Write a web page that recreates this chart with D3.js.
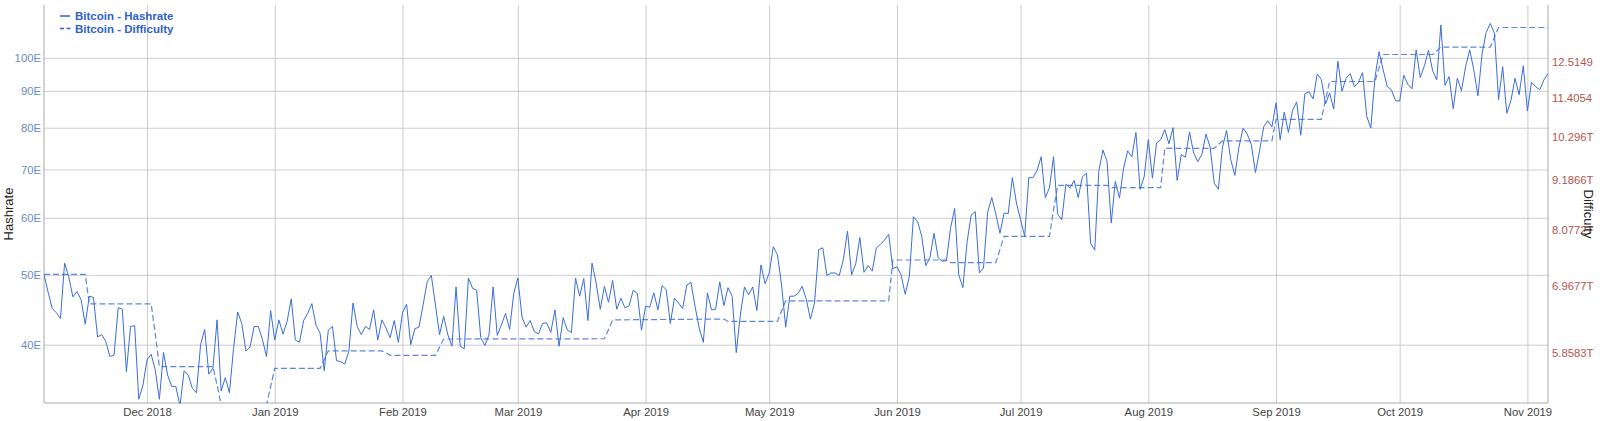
<!DOCTYPE html>
<html>
<head>
<meta charset="utf-8">
<script src="https://cdn.jsdelivr.net/npm/d3@7"></script>
<style>
  html, body { margin: 0; padding: 0; background: #ffffff; }
  svg { display: block; font-family: Arial, "Liberation Sans", sans-serif; }
</style>
</head>
<body>
<svg id="chart" width="1600" height="421"></svg>
<script>
// ---------------- DATA ----------------
const startDate = "2018-11-06";
const endDate = "2019-11-06";

// Daily hashrate (EH/s), one value per day from startDate to endDate
const hashrate = [
  50.0, 47.3, 44.9, 44.3, 43.5, 51.9, 49.7, 46.6, 47.4, 46.2,
  42.7, 46.7, 46.5, 41.0, 41.3, 40.4, 38.5, 38.7, 45.0, 44.8,
  36.7, 42.4, 42.5, 33.6, 35.1, 38.1, 38.8, 36.9, 33.6, 39.0,
  36.3, 35.0, 35.0, 32.9, 36.8, 36.3, 34.8, 34.3, 40.0, 42.0,
  36.4, 37.1, 43.3, 34.5, 36.0, 34.3, 39.5, 44.4, 42.8, 39.2,
  39.7, 42.4, 42.4, 40.7, 38.5, 44.6, 40.6, 43.3, 41.4, 43.1,
  46.3, 40.6, 40.3, 43.2, 44.2, 45.6, 42.6, 41.5, 36.8, 41.9,
  42.4, 38.0, 37.9, 37.6, 39.2, 45.7, 42.4, 41.3, 42.4, 42.0,
  44.7, 40.6, 43.3, 42.2, 40.9, 43.2, 40.3, 44.3, 45.5, 40.0,
  42.1, 42.3, 45.4, 48.9, 49.9, 45.4, 41.3, 43.8, 41.3, 39.8,
  48.1, 39.8, 39.5, 49.5, 47.9, 47.6, 40.9, 39.9, 41.3, 48.1,
  41.2, 42.6, 44.2, 42.0, 47.1, 49.5, 43.7, 42.3, 43.2, 41.7,
  41.4, 42.8, 42.9, 41.6, 44.7, 39.8, 43.6, 41.9, 41.6, 49.5,
  46.7, 49.4, 43.2, 51.9, 48.7, 44.8, 48.2, 45.8, 49.1, 44.8,
  46.4, 45.0, 45.3, 47.6, 47.1, 41.9, 45.2, 45.1, 47.2, 44.7,
  48.3, 47.7, 42.8, 46.4, 45.7, 44.9, 48.4, 48.8, 45.2, 42.2,
  40.3, 47.2, 44.7, 44.8, 48.9, 45.3, 48.0, 46.7, 39.0, 44.0,
  48.1, 46.9, 48.1, 44.6, 51.6, 48.6, 50.3, 54.7, 53.3, 48.4,
  42.3, 46.7, 46.7, 47.1, 48.2, 46.2, 43.4, 45.7, 54.2, 54.5,
  49.9, 50.3, 50.3, 49.9, 52.5, 57.5, 50.0, 51.8, 56.3, 50.4,
  51.5, 50.6, 54.5, 55.1, 55.9, 56.9, 51.0, 51.3, 50.0, 47.0,
  49.7, 60.2, 59.3, 56.6, 51.5, 52.8, 57.1, 52.8, 52.2, 52.3,
  58.0, 61.8, 50.0, 48.0, 55.4, 60.5, 61.2, 50.3, 51.1, 61.0,
  64.0, 60.7, 57.1, 60.9, 60.8, 68.2, 62.9, 59.6, 56.6, 68.2,
  68.2, 69.8, 72.9, 64.0, 66.0, 72.9, 60.7, 59.6, 66.8, 66.0,
  67.6, 64.0, 68.4, 69.2, 55.3, 54.1, 69.8, 74.5, 71.8, 59.0,
  67.4, 63.9, 70.3, 74.3, 72.9, 78.8, 65.7, 68.4, 77.0, 68.1,
  76.2, 77.0, 79.5, 76.0, 80.0, 67.6, 73.4, 72.8, 78.9, 73.8,
  71.8, 73.4, 78.4, 75.2, 67.0, 65.7, 75.2, 79.3, 72.3, 68.7,
  75.2, 79.9, 78.4, 75.8, 69.3, 74.3, 80.2, 81.8, 80.2, 86.6,
  77.0, 84.1, 78.8, 84.5, 86.9, 78.1, 89.2, 89.7, 87.7, 95.0,
  93.3, 86.3, 89.4, 84.9, 99.0, 89.9, 93.7, 95.1, 91.2, 92.5,
  95.4, 83.0, 79.9, 93.9, 102.0, 96.2, 91.2, 90.3, 87.2, 87.1,
  94.6, 91.9, 90.6, 102.6, 93.9, 97.5, 102.4, 96.0, 93.2, 111.1,
  91.6, 94.2, 85.0, 93.7, 90.0, 97.2, 102.6, 96.2, 88.6, 101.3,
  108.5, 111.6, 108.2, 87.5, 97.2, 83.8, 87.2, 93.7, 88.9, 97.5,
  84.4, 92.5, 91.2, 90.3, 93.2, 95.1
];

// Difficulty (T) at the vertices of its dashed line
const difficultyDates = [
  "2018-11-06","2018-11-16","2018-11-17","2018-12-02","2018-12-03","2018-12-04",
  "2018-12-17","2018-12-18","2018-12-19","2018-12-30","2018-12-31","2019-01-01",
  "2019-01-12","2019-01-13","2019-01-14","2019-01-27","2019-01-28","2019-01-29",
  "2019-02-09","2019-02-10","2019-02-11","2019-03-22","2019-03-23","2019-03-24",
  "2019-04-20","2019-04-21","2019-05-03","2019-05-04","2019-05-05","2019-05-30",
  "2019-05-31","2019-06-13","2019-06-14","2019-06-25","2019-06-26","2019-06-27",
  "2019-07-08","2019-07-09","2019-07-10","2019-07-22","2019-07-23","2019-08-04",
  "2019-08-05","2019-08-17","2019-08-18","2019-08-19","2019-08-31","2019-09-01",
  "2019-09-12","2019-09-13","2019-09-14","2019-09-25","2019-09-26","2019-09-27",
  "2019-10-09","2019-10-10","2019-10-11","2019-10-23","2019-10-24","2019-10-25",
  "2019-11-06"
];
const difficultyValues = [
  7.184, 7.184, 6.653, 6.653, 6.15, 5.646,
  5.646, 5.38, 5.106, 5.106, 5.36, 5.619,
  5.619, 5.75, 5.883, 5.883, 5.85, 5.814,
  5.814, 5.94, 6.068, 6.072, 6.22, 6.379,
  6.393, 6.353, 6.353, 6.53, 6.704, 6.704,
  7.459, 7.459, 7.409, 7.409, 7.67, 7.934,
  7.934, 8.50, 9.064, 9.064, 9.013, 9.013,
  9.985, 9.985, 10.08, 10.183, 10.183, 10.771,
  10.771, 11.33, 11.890, 11.890, 12.32, 12.759,
  12.759, 12.88, 13.008, 13.008, 13.35, 13.691,
  13.691
];

const leftTicks = [40, 50, 60, 70, 80, 90, 100];
const leftTickLabels = ["40E", "50E", "60E", "70E", "80E", "90E", "100E"];
const rightTicks = [5.8583, 6.9677, 8.0772, 9.1866, 10.296, 11.4054, 12.5149];
const rightTickLabels = ["5.8583T", "6.9677T", "8.0772T", "9.1866T", "10.296T", "11.4054", "12.5149"];
const monthTicks = ["2018-12-01","2019-01-01","2019-02-01","2019-03-01","2019-04-01","2019-05-01",
                    "2019-06-01","2019-07-01","2019-08-01","2019-09-01","2019-10-01","2019-11-01"];
const monthLabels = ["Dec 2018","Jan 2019","Feb 2019","Mar 2019","Apr 2019","May 2019",
                     "Jun 2019","Jul 2019","Aug 2019","Sep 2019","Oct 2019","Nov 2019"];
const seriesNames = ["Bitcoin - Hashrate", "Bitcoin - Difficulty"];
const leftDomain = [33.2, 118.4];
const rightDomain = [5.134, 14.52];

// ---------------- CHART ----------------
const parse = d3.timeParse("%Y-%m-%d");
const plot = { left: 44, right: 1548, top: 5, bottom: 403 };

const dates = d3.timeDay.range(parse(startDate), d3.timeDay.offset(parse(endDate), 1));
const hashData = hashrate.map((v, i) => ({ date: dates[i], value: v }));
const diffData = difficultyDates.map((d, i) => ({ date: parse(d), value: difficultyValues[i] }));

const x = d3.scaleTime().domain([parse(startDate), parse(endDate)]).range([plot.left, plot.right]);
const yL = d3.scaleLog().domain(leftDomain).range([plot.bottom, plot.top]);
const yR = d3.scaleLog().domain(rightDomain).range([plot.bottom, plot.top]);

const svg = d3.select("#chart");

svg.append("defs").append("clipPath").attr("id", "clip")
  .append("rect")
  .attr("x", plot.left).attr("y", plot.top)
  .attr("width", plot.right - plot.left).attr("height", plot.bottom - plot.top + 0.5);

const gridColor = "#cccccc";

// horizontal gridlines (left axis)
const gridY = svg.append("g")
  .attr("transform", `translate(${plot.left},0)`)
  .call(d3.axisLeft(yL).tickValues(leftTicks).tickSize(-(plot.right - plot.left)).tickFormat(""));
gridY.select(".domain").remove();
gridY.selectAll(".tick line").attr("stroke", gridColor).attr("stroke-width", 1);

// vertical gridlines (months)
const gridX = svg.append("g")
  .attr("transform", `translate(0,${plot.bottom})`)
  .call(d3.axisBottom(x).tickValues(monthTicks.map(parse)).tickSize(-(plot.bottom - plot.top)).tickFormat(""));
gridX.select(".domain").remove();
gridX.selectAll(".tick line").attr("stroke", gridColor).attr("stroke-width", 1);

// axis frame lines
svg.append("line").attr("x1", plot.left).attr("x2", plot.left).attr("y1", plot.top).attr("y2", plot.bottom)
  .attr("stroke", "#aaaaaa").attr("stroke-width", 1);
svg.append("line").attr("x1", plot.right).attr("x2", plot.right).attr("y1", plot.top).attr("y2", plot.bottom)
  .attr("stroke", "#aaaaaa").attr("stroke-width", 1);
svg.append("line").attr("x1", plot.left).attr("x2", plot.right).attr("y1", plot.bottom).attr("y2", plot.bottom)
  .attr("stroke", "#aaaaaa").attr("stroke-width", 1);

// left tick labels
const axL = svg.append("g")
  .attr("transform", `translate(${plot.left},0)`)
  .call(d3.axisLeft(yL).tickValues(leftTicks).tickSize(0).tickPadding(3)
        .tickFormat((d, i) => leftTickLabels[i]));
axL.select(".domain").remove();
axL.selectAll("text").attr("fill", "#6a8cc3").attr("font-size", "11.3px")
  .attr("font-family", "Arial, 'Liberation Sans', sans-serif");

// right tick labels
const axR = svg.append("g")
  .attr("transform", `translate(${plot.right},0)`)
  .call(d3.axisRight(yR).tickValues(rightTicks).tickSize(0).tickPadding(4)
        .tickFormat((d, i) => rightTickLabels[i]));
axR.select(".domain").remove();
axR.selectAll("text").attr("fill", "#b5554f").attr("font-size", "11.3px")
  .attr("font-family", "Arial, 'Liberation Sans', sans-serif");

// bottom month labels
const axB = svg.append("g")
  .attr("transform", `translate(0,${plot.bottom})`)
  .call(d3.axisBottom(x).tickValues(monthTicks.map(parse)).tickSize(0).tickPadding(5)
        .tickFormat((d, i) => monthLabels[i]));
axB.select(".domain").remove();
axB.selectAll("text").attr("fill", "#444444").attr("font-size", "11.3px")
  .attr("font-family", "Arial, 'Liberation Sans', sans-serif");

// axis titles
svg.append("text")
  .attr("transform", `translate(12.5,${(plot.top + plot.bottom) / 2 + 10}) rotate(-90)`)
  .attr("text-anchor", "middle")
  .attr("font-size", "13px").attr("fill", "#222222")
  .text("Hashrate");
svg.append("text")
  .attr("transform", `translate(1584,${(plot.top + plot.bottom) / 2 + 10}) rotate(90)`)
  .attr("text-anchor", "middle")
  .attr("font-size", "13px").attr("fill", "#222222")
  .text("Difficulty");

// series
const gSeries = svg.append("g").attr("clip-path", "url(#clip)");

gSeries.append("path")
  .datum(diffData)
  .attr("fill", "none")
  .attr("stroke", "#5d86e0")
  .attr("stroke-width", 1.2)
  .attr("stroke-dasharray", "6,3")
  .attr("d", d3.line().x(d => x(d.date)).y(d => yR(d.value)));

gSeries.append("path")
  .datum(hashData)
  .attr("fill", "none")
  .attr("stroke", "#3a6ddb")
  .attr("stroke-width", 1)
  .attr("stroke-linejoin", "round")
  .attr("d", d3.line().x(d => x(d.date)).y(d => yL(d.value)));

// legend
const legend = svg.append("g");
legend.append("line").attr("x1", 60).attr("x2", 70).attr("y1", 16).attr("y2", 16)
  .attr("stroke", "#2f5fd0").attr("stroke-width", 1.5);
legend.append("line").attr("x1", 60).attr("x2", 71).attr("y1", 28.5).attr("y2", 28.5)
  .attr("stroke", "#2f5fd0").attr("stroke-width", 1.5).attr("stroke-dasharray", "4,2.5");
legend.selectAll("text.leg").data(seriesNames).enter().append("text")
  .attr("class", "leg")
  .attr("x", 75)
  .attr("y", (d, i) => 20 + i * 12.5)
  .attr("font-size", "11.5px")
  .attr("font-weight", "bold")
  .attr("fill", "#2f5fd0")
  .text(d => d);
</script>
</body>
</html>
